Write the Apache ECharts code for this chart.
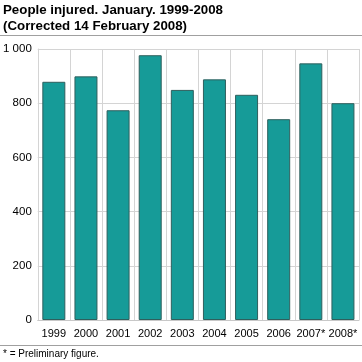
<!DOCTYPE html>
<html><head><meta charset="utf-8">
<script src="https://cdn.jsdelivr.net/npm/echarts@6/dist/echarts.min.js"></script>
<style>html,body{margin:0;padding:0;background:#fff}#c{width:362px;height:362px}</style>
</head><body><div id="c"></div>
<script>
var categories = ['1999','2000','2001','2002','2003','2004','2005','2006','2007*','2008*'];
var injured = [879, 899, 774, 977, 849, 888, 831, 741, 947, 800];
var yTicks = [0, 200, 400, 600, 800, 1000];
var titleText = 'People injured. January. 1999-2008\n(Corrected 14 February 2008)';
var footnote = '* = Preliminary figure.';

var chart = echarts.init(document.getElementById('c'), null, {renderer: 'canvas'});
chart.setOption({
  animation: false,
  textStyle: {fontFamily: 'Liberation Sans, Arial, sans-serif'},
  title: {
    text: titleText, left: 3, top: 2, padding: 0,
    textStyle: {fontSize: 13.3, fontWeight: 'bold', color: '#000', lineHeight: 16, fontFamily: 'Liberation Sans, Arial, sans-serif'}
  },
  graphic: [
    {type: 'line', shape: {x1: 0, y1: 35.5, x2: 362, y2: 35.5}, style: {stroke: '#a0a0a0', lineWidth: 1}},
    {type: 'line', shape: {x1: 0, y1: 345.5, x2: 362, y2: 345.5}, style: {stroke: '#a0a0a0', lineWidth: 1}},
    {type: 'text', left: 3, top: 349, style: {text: footnote, fontSize: 10, fill: '#000', fontFamily: 'Liberation Sans, Arial, sans-serif'}}
  ],
  grid: {left: 36, right: 3, top: 49, bottom: 42, containLabel: false},
  xAxis: {
    type: 'category', data: categories, boundaryGap: true,
    axisLine: {show: true, lineStyle: {color: '#c8c8c8'}},
    axisTick: {show: false},
    axisLabel: {color: '#000', fontSize: 11, margin: 8, interval: 0},
    splitLine: {show: true, interval: 0, lineStyle: {color: '#d4d4d4', width: 1}}
  },
  yAxis: {
    type: 'value', min: yTicks[0], max: yTicks[yTicks.length - 1], interval: 200,
    axisLine: {show: true, lineStyle: {color: '#d4d4d4'}},
    axisTick: {show: false},
    axisLabel: {color: '#000', fontSize: 11.5, margin: 6,
      formatter: function (v) { return v >= 1000 ? String(v).replace(/(\d)(\d{3})$/, '$1 $2') : String(v); }},
    splitLine: {show: true, lineStyle: {color: '#d4d4d4', width: 1}}
  },
  series: [{
    type: 'bar', data: injured, barWidth: 23,
    itemStyle: {color: '#169b98', borderColor: '#2f5f5d', borderWidth: 1}
  }]
});
</script></body></html>
